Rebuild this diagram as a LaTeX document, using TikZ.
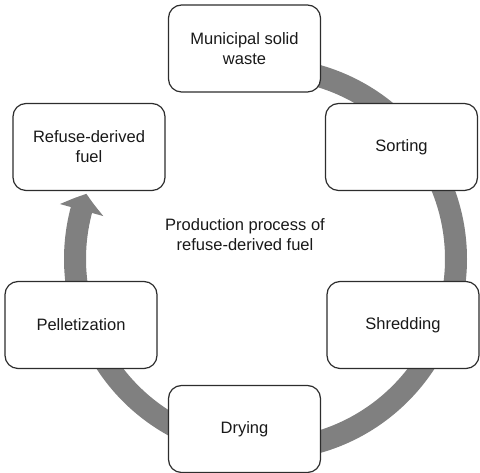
\documentclass[tikz,border=0pt]{standalone}
\usepackage{fontspec}
\setmainfont{Liberation Sans}
\usetikzlibrary{arrows.meta,bending,backgrounds,calc}
\definecolor{band}{RGB}{128,128,128}
\definecolor{edge}{RGB}{45,45,45}
\definecolor{txt}{RGB}{25,25,25}
\tikzset{
  stepbox/.style={draw=edge, line width=1.2pt, fill=white, rounded corners=13pt,
    minimum width=152pt, minimum height=87pt, inner sep=0pt, align=center,
    text=txt, font=\fontsize{16.5}{20}\selectfont},
  cyclearrow/.style={draw=band, line width=22pt,
    -{Triangle[width=44pt,length=17pt,bend]}, color=band}
}
\begin{document}
\begin{tikzpicture}[x=1pt,y=1pt]
\useasboundingbox (0,0) rectangle (480,473);
\node[stepbox] (msw) at (244.5,424.5) {Municipal solid\\waste};
\node[stepbox] (sort) at (401.5,326) {Sorting};
\node[stepbox] (shred) at (403,148) {Shredding};
\node[stepbox] (dry) at (244.5,44) {Drying};
\node[stepbox] (pell) at (81,148) {Pelletization};
\node[stepbox] (rdf) at (89,326) {Refuse-derived\\fuel};
\node[align=center, text=txt, font=\fontsize{16.5}{20}\selectfont] (title) at (245,238)
  {Production process of\\refuse-derived fuel};
\coordinate (ctr) at (265.5,214);
\begin{scope}[on background layer]
\draw[cyclearrow] ($(ctr)+(90:190.5)$) arc[start angle=90, end angle=-200, radius=190.5];
\end{scope}
\end{tikzpicture}
\end{document}
